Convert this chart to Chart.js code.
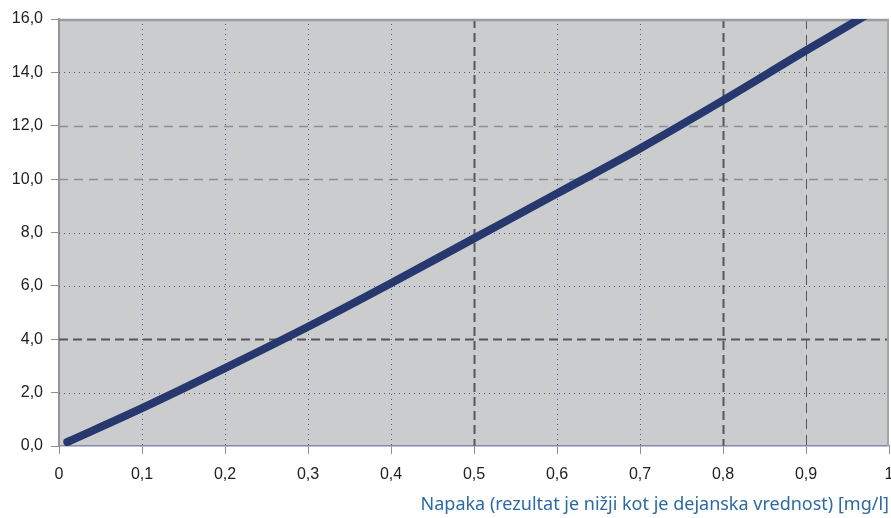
<!DOCTYPE html>
<html>
<head>
<meta charset="utf-8">
<script src="https://cdn.jsdelivr.net/npm/chart.js@4"></script>
<style>
  html, body { margin:0; padding:0; background:#fff; }
  canvas { display:block; }
</style>
</head>
<body>
<canvas id="chart" width="891" height="518"></canvas>
<script>
// ── Data ────────────────────────────────────────────────────
const errorMgL   = [0.01, 0.1, 0.2, 0.3, 0.4, 0.5, 0.6, 0.7, 0.8, 0.9, 0.97];
const errorPct   = [0.15, 1.42, 2.92, 4.47, 6.1, 7.78, 9.46, 11.15, 12.95, 14.82, 16.1];
const xTickLabels = ['0','0,1','0,2','0,3','0,4','0,5','0,6','0,7','0,8','0,9','1'];
const yTickLabels = ['0,0','2,0','4,0','6,0','8,0','10,0','12,0','14,0','16,0'];
const xTitle = 'Napaka (rezultat je nižji kot je dejanska vrednost) [mg/l]';

// ── Grid line styles (per tick value) ───────────────────────
const DOT  = { color:'#4c5590', width:1, dash:[1,4] };
const DARK = { color:'#55575c', width:2, dash:[9,5] };
const THIN = { color:'#55575c', width:1, dash:[10,6] };
const GREY = { color:'#8c8e92', width:1.5, dash:[9,6] };
const vGrid = { '0.1':DOT, '0.2':DOT, '0.3':DOT, '0.4':DOT, '0.5':DARK,
                '0.6':DOT, '0.7':DOT, '0.8':DARK, '0.9':THIN };
const hGrid = { '2':DOT, '4':DARK, '6':DOT, '8':DOT, '10':GREY, '12':GREY, '14':DOT };

const plotBg = {
  id:'plotBg',
  beforeDraw(chart) {
    const {ctx, chartArea:a} = chart;
    ctx.save();
    ctx.fillStyle = '#cbccce';
    ctx.fillRect(a.left, a.top, a.right - a.left, a.bottom - a.top);
    ctx.restore();
  },
  beforeDatasetsDraw(chart) {
    const {ctx, chartArea:a, scales:{x, y}} = chart;
    const line = (s, x1, y1, x2, y2) => {
      ctx.save();
      ctx.strokeStyle = s.color; ctx.lineWidth = s.width; ctx.setLineDash(s.dash);
      ctx.beginPath(); ctx.moveTo(x1, y1); ctx.lineTo(x2, y2); ctx.stroke();
      ctx.restore();
    };
    for (const k in hGrid) {
      const py = Math.round(y.getPixelForValue(+k)) + 0.5;
      line(hGrid[k], a.left, py, a.right, py);
    }
    for (const k in vGrid) {
      const px = Math.round(x.getPixelForValue(+k)) + 0.5;
      line(vGrid[k], px, a.top, px, a.bottom);
    }
    // top and right frame
    line({color:'#9a9ca0', width:2.5, dash:[]}, a.left, a.top + 1, a.right, a.top + 1);
    line({color:'#a4a6aa', width:2, dash:[]}, a.right - 1, a.top, a.right - 1, a.bottom);
  }
};

const noPad = s => { s.paddingLeft = 0; s.paddingRight = 0; s.paddingTop = 0; s.paddingBottom = 0; };
const tickFont = { family:'"Liberation Sans", Arial, sans-serif', size:16 };

new Chart(document.getElementById('chart'), {
  type:'scatter',
  data:{
    datasets:[{
      data: errorMgL.map((v, i) => ({x:v, y:errorPct[i]})),
      showLine:true,
      borderColor:'#27386f',
      borderWidth:8,
      borderCapStyle:'round',
      pointRadius:0,
      cubicInterpolationMode:'monotone'
    }]
  },
  options:{
    responsive:false,
    animation:false,
    layout:{ padding:{ top:19, right:2, left:0, bottom:0 } },
    plugins:{ legend:{display:false}, tooltip:{enabled:false} },
    scales:{
      x:{
        type:'linear', min:0, max:1,
        afterFit(s) { s.height = 72; noPad(s); },
        border:{ color:'#8388ab', width:1.5 },
        grid:{ drawOnChartArea:false, tickLength:8, tickColor:'#8d8f93', tickWidth:1 },
        ticks:{
          stepSize:0.1, padding:11, color:'#222', maxRotation:0, autoSkip:false,
          font:tickFont,
          callback:(v, i) => xTickLabels[i]
        },
        title:{
          display:true, text:xTitle, align:'end', color:'#2b6aa2',
          font:{ family:'"Noto Sans", sans-serif', size:18 },
          padding:{ top:0, bottom:2 }
        }
      },
      y:{
        type:'linear', min:0, max:16,
        afterFit(s) { s.width = 59; noPad(s); },
        border:{ color:'#929499', width:2 },
        grid:{ drawOnChartArea:false, tickLength:8, tickColor:'#8d8f93', tickWidth:1 },
        ticks:{
          stepSize:2, padding:8, color:'#222',
          font:tickFont,
          callback:(v, i) => yTickLabels[i]
        }
      }
    }
  },
  plugins:[plotBg]
});
</script>
</body>
</html>
